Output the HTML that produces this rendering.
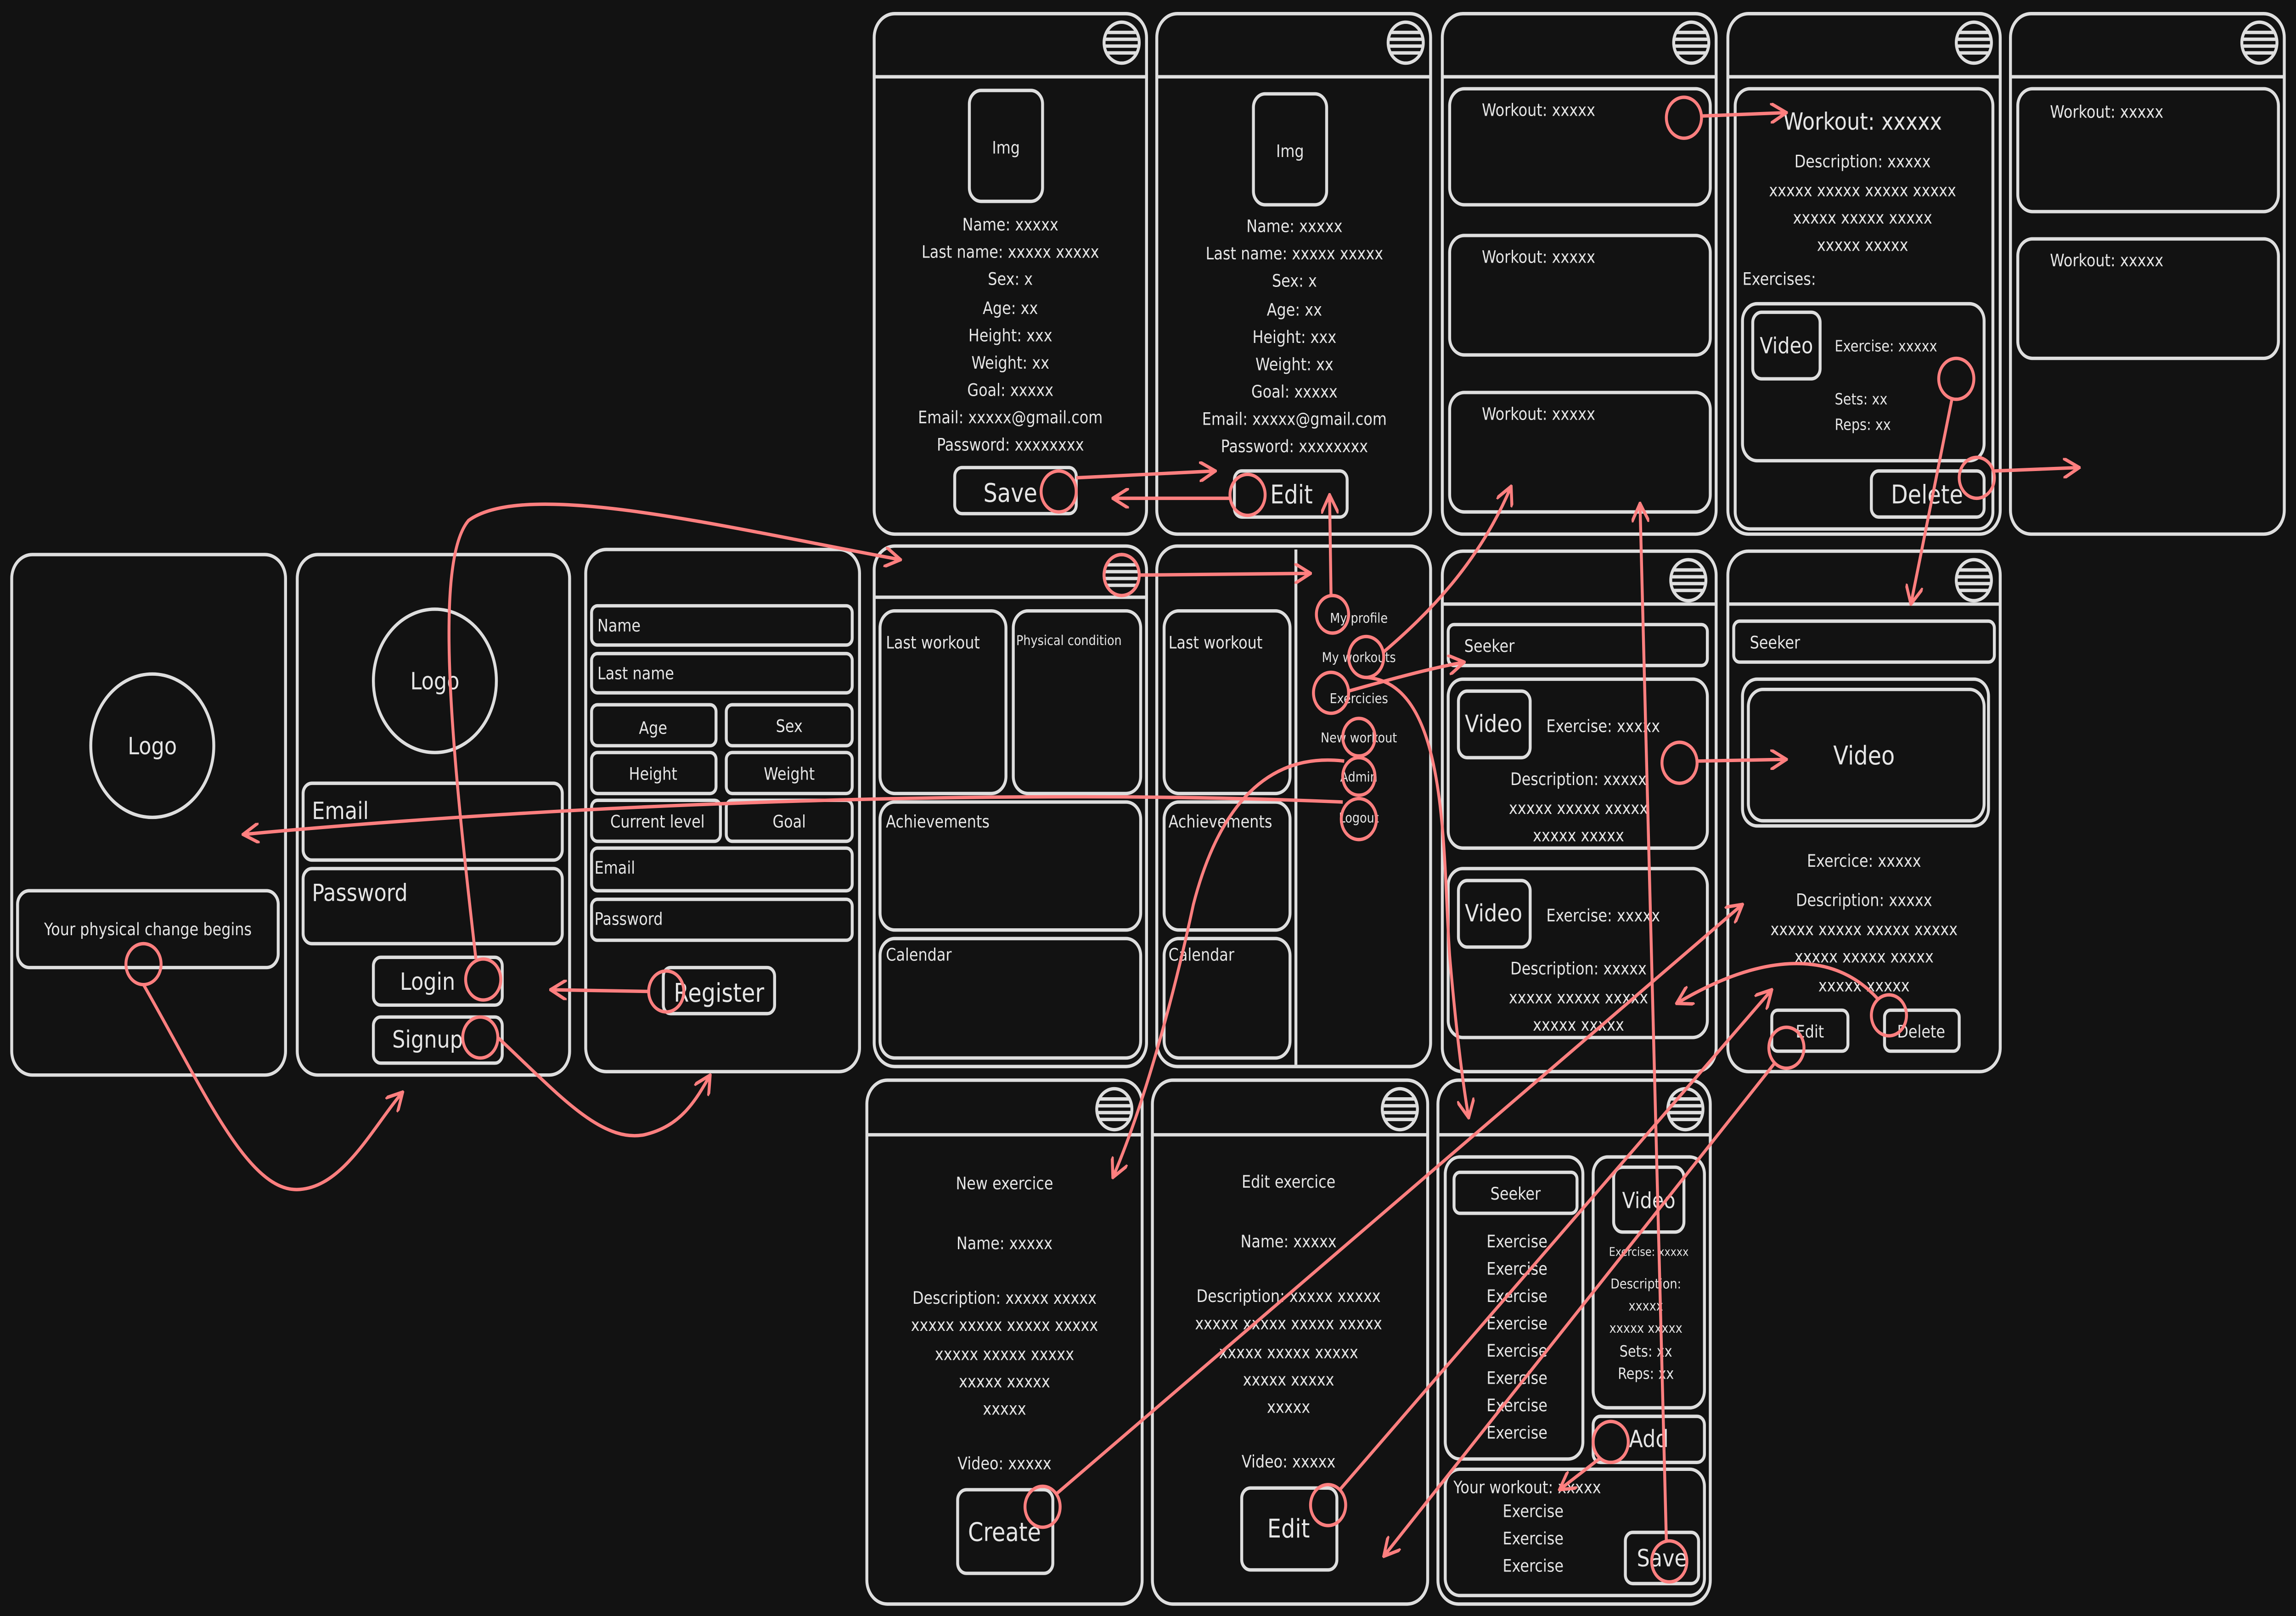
<!DOCTYPE html>
<html><head><meta charset="utf-8"><style>
html,body{margin:0;padding:0;background:#121212;width:100%;height:100%;overflow:hidden;}
svg{display:block;position:absolute;left:0;top:0;width:100%;height:100%}
text{font-family:"DejaVu Sans","Liberation Sans",sans-serif;fill:#e6e6e6;font-size:10px}
.c{text-anchor:middle}
.f{fill:none;stroke:#dedede;stroke-width:2}
.r{fill:none;stroke:#ff7f7f;stroke-width:2}
</style></head><body>
<svg viewBox="0 0 1568 947" preserveAspectRatio="none" xmlns="http://www.w3.org/2000/svg">
<defs>
<marker id="a" viewBox="0 0 12 12" refX="11" refY="6" markerWidth="12" markerHeight="12" markerUnits="userSpaceOnUse" orient="auto"><path d="M0,0 L11,6 L0,12" fill="none" stroke="#ff7f7f" stroke-width="2"/></marker>
<g id="hb"><circle r="12" class="f"/><line x1="-10" y1="-6" x2="10" y2="-6" class="f"/><line x1="-11" y1="-2" x2="11" y2="-2" class="f"/><line x1="-11" y1="2" x2="11" y2="2" class="f"/><line x1="-10" y1="6" x2="10" y2="6" class="f"/></g>
</defs>
<rect width="1568" height="947" fill="#121212"/>
<g>
<!-- Row 1 -->
<rect x="597" y="8" width="186" height="305" rx="14" class="f"/><line x1="597" y1="45" x2="783" y2="45" class="f"/><use href="#hb" x="766" y="25"/>
<rect x="662" y="53" width="50" height="65" rx="8" class="f"/><text x="687" y="90" class="c">Img</text>
<text x="690" y="135" class="c">Name: xxxxx</text><text x="690" y="151" class="c">Last name: xxxxx xxxxx</text><text x="690" y="167" class="c">Sex: x</text><text x="690" y="184" class="c">Age: xx</text><text x="690" y="200" class="c">Height: xxx</text><text x="690" y="216" class="c">Weight: xx</text><text x="690" y="232" class="c">Goal: xxxxx</text><text x="690" y="248" class="c">Email: xxxxx@gmail.com</text><text x="690" y="264" class="c">Password: xxxxxxxx</text>
<rect x="652" y="274" width="83" height="27" rx="5" class="f"/><text x="690" y="294" class="c" style="font-size:15px">Save</text>

<rect x="790" y="8" width="187" height="305" rx="14" class="f"/><line x1="790" y1="45" x2="977" y2="45" class="f"/><use href="#hb" x="960" y="25"/>
<rect x="856" y="55" width="50" height="65" rx="8" class="f"/><text x="881" y="92" class="c">Img</text>
<text x="884" y="136" class="c">Name: xxxxx</text><text x="884" y="152" class="c">Last name: xxxxx xxxxx</text><text x="884" y="168" class="c">Sex: x</text><text x="884" y="185" class="c">Age: xx</text><text x="884" y="201" class="c">Height: xxx</text><text x="884" y="217" class="c">Weight: xx</text><text x="884" y="233" class="c">Goal: xxxxx</text><text x="884" y="249" class="c">Email: xxxxx@gmail.com</text><text x="884" y="265" class="c">Password: xxxxxxxx</text>
<rect x="843" y="276" width="77" height="27" rx="5" class="f"/><text x="882" y="295" class="c" style="font-size:15px">Edit</text>

<rect x="985" y="8" width="187" height="305" rx="14" class="f"/><line x1="985" y1="45" x2="1172" y2="45" class="f"/><use href="#hb" x="1155" y="25"/>
<rect x="990" y="52" width="178" height="68" rx="10" class="f"/><text x="1012" y="68">Workout: xxxxx</text>
<rect x="990" y="138" width="178" height="70" rx="10" class="f"/><text x="1012" y="154">Workout: xxxxx</text>
<rect x="990" y="230" width="178" height="70" rx="10" class="f"/><text x="1012" y="246">Workout: xxxxx</text>

<rect x="1180" y="8" width="186" height="305" rx="14" class="f"/><line x1="1180" y1="45" x2="1366" y2="45" class="f"/><use href="#hb" x="1348" y="25"/>
<rect x="1185" y="52" width="176" height="258" rx="10" class="f"/>
<text x="1272" y="76" class="c" style="font-size:14px">Workout: xxxxx</text>
<text x="1272" y="98" class="c">Description: xxxxx</text><text x="1272" y="115" class="c">xxxxx xxxxx xxxxx xxxxx</text><text x="1272" y="131" class="c">xxxxx xxxxx xxxxx</text><text x="1272" y="147" class="c">xxxxx xxxxx</text>
<text x="1190" y="167">Exercises:</text>
<rect x="1190" y="178" width="165" height="92" rx="10" class="f"/><rect x="1197" y="183" width="46" height="39" rx="6" class="f"/><text x="1220" y="207" class="c" style="font-size:13px">Video</text>
<text x="1253" y="206" style="font-size:9px">Exercise: xxxxx</text><text x="1253" y="237" style="font-size:9px">Sets: xx</text><text x="1253" y="252" style="font-size:9px">Reps: xx</text>
<rect x="1278" y="276" width="77" height="27" rx="5" class="f"/><text x="1316" y="295" class="c" style="font-size:15px">Delete</text>

<rect x="1373" y="8" width="187" height="305" rx="14" class="f"/><line x1="1373" y1="45" x2="1560" y2="45" class="f"/><use href="#hb" x="1543" y="25"/>
<rect x="1378" y="52" width="178" height="72" rx="10" class="f"/><text x="1400" y="69">Workout: xxxxx</text>
<rect x="1378" y="140" width="178" height="70" rx="10" class="f"/><text x="1400" y="156">Workout: xxxxx</text>

<!-- Row 2 -->
<rect x="8" y="325" width="187" height="305" rx="14" class="f"/>
<circle cx="104" cy="437" r="42" class="f"/><text x="104" y="442" class="c" style="font-size:14px">Logo</text>
<rect x="12" y="522" width="178" height="45" rx="8" class="f"/><text x="101" y="548" class="c">Your physical change begins</text>

<rect x="203" y="325" width="186" height="305" rx="14" class="f"/>
<circle cx="297" cy="399" r="42" class="f"/><text x="297" y="404" class="c" style="font-size:14px">Logo</text>
<rect x="207" y="459" width="177" height="45" rx="6" class="f"/><text x="213" y="480" style="font-size:14px">Email</text>
<rect x="207" y="509" width="177" height="44" rx="6" class="f"/><text x="213" y="528" style="font-size:14px">Password</text>
<rect x="255" y="561" width="88" height="28" rx="5" class="f"/><text x="292" y="580" class="c" style="font-size:14px">Login</text>
<rect x="255" y="596" width="88" height="27" rx="5" class="f"/><text x="292" y="614" class="c" style="font-size:14px">Signup</text>

<rect x="400" y="322" width="187" height="306" rx="14" class="f"/>
<rect x="404" y="355" width="178" height="23" rx="4" class="f"/><text x="408" y="370">Name</text>
<rect x="404" y="383" width="178" height="23" rx="4" class="f"/><text x="408" y="398">Last name</text>
<rect x="404" y="413" width="85" height="24" rx="4" class="f"/><text x="446" y="430" class="c">Age</text>
<rect x="496" y="413" width="86" height="24" rx="4" class="f"/><text x="539" y="429" class="c">Sex</text>
<rect x="404" y="441" width="85" height="24" rx="4" class="f"/><text x="446" y="457" class="c">Height</text>
<rect x="496" y="441" width="86" height="24" rx="4" class="f"/><text x="539" y="457" class="c">Weight</text>
<rect x="404" y="469" width="88" height="24" rx="4" class="f"/><text x="449" y="485" class="c">Current level</text>
<rect x="496" y="469" width="86" height="24" rx="4" class="f"/><text x="539" y="485" class="c">Goal</text>
<rect x="404" y="497" width="178" height="25" rx="4" class="f"/><text x="406" y="512">Email</text>
<rect x="404" y="527" width="178" height="24" rx="4" class="f"/><text x="406" y="542">Password</text>
<rect x="453" y="567" width="76" height="27" rx="5" class="f"/><text x="491" y="587" class="c" style="font-size:15px">Register</text>

<rect x="597" y="320" width="186" height="305" rx="14" class="f"/><line x1="597" y1="350" x2="783" y2="350" class="f"/><use href="#hb" x="766" y="337"/>
<rect x="601" y="358" width="86" height="107" rx="10" class="f"/><text x="605" y="380">Last workout</text>
<rect x="692" y="358" width="87" height="107" rx="10" class="f"/><text x="694" y="378" style="font-size:8px">Physical condition</text>
<rect x="601" y="470" width="178" height="75" rx="10" class="f"/><text x="605" y="485">Achievements</text>
<rect x="601" y="550" width="178" height="70" rx="10" class="f"/><text x="605" y="563">Calendar</text>

<rect x="790" y="320" width="187" height="305" rx="14" class="f"/><line x1="885" y1="322" x2="885" y2="624" class="f"/>
<rect x="795" y="358" width="86" height="107" rx="10" class="f"/><text x="798" y="380">Last workout</text>
<rect x="795" y="470" width="86" height="75" rx="10" class="f"/><text x="798" y="485">Achievements</text>
<rect x="795" y="550" width="86" height="70" rx="10" class="f"/><text x="798" y="563">Calendar</text>
<text x="928" y="365" class="c" style="font-size:8px">My profile</text><text x="928" y="388" class="c" style="font-size:8px">My workouts</text><text x="928" y="412" class="c" style="font-size:8px">Exercicies</text><text x="928" y="435" class="c" style="font-size:8px">New workout</text><text x="928" y="458" class="c" style="font-size:8px">Admin</text><text x="928" y="482" class="c" style="font-size:8px">Logout</text>

<rect x="985" y="323" width="187" height="305" rx="14" class="f"/><line x1="985" y1="354" x2="1172" y2="354" class="f"/><use href="#hb" x="1153" y="340"/>
<rect x="989" y="366" width="177" height="24" rx="4" class="f"/><text x="1000" y="382">Seeker</text>
<rect x="989" y="398" width="177" height="99" rx="10" class="f"/><rect x="996" y="405" width="49" height="39" rx="6" class="f"/><text x="1020" y="429" class="c" style="font-size:14px">Video</text>
<text x="1056" y="429">Exercise: xxxxx</text><text x="1078" y="460" class="c">Description: xxxxx</text><text x="1078" y="477" class="c">xxxxx xxxxx xxxxx</text><text x="1078" y="493" class="c">xxxxx xxxxx</text>
<rect x="989" y="509" width="177" height="99" rx="10" class="f"/><rect x="996" y="516" width="49" height="39" rx="6" class="f"/><text x="1020" y="540" class="c" style="font-size:14px">Video</text>
<text x="1056" y="540">Exercise: xxxxx</text><text x="1078" y="571" class="c">Description: xxxxx</text><text x="1078" y="588" class="c">xxxxx xxxxx xxxxx</text><text x="1078" y="604" class="c">xxxxx xxxxx</text>

<rect x="1180" y="323" width="186" height="305" rx="14" class="f"/><line x1="1180" y1="354" x2="1366" y2="354" class="f"/><use href="#hb" x="1348" y="340"/>
<rect x="1184" y="364" width="178" height="24" rx="4" class="f"/><text x="1195" y="380">Seeker</text>
<rect x="1190" y="398" width="168" height="86" rx="10" class="f"/><rect x="1194" y="404" width="161" height="77" rx="10" class="f"/><text x="1273" y="448" class="c" style="font-size:15px">Video</text>
<text x="1273" y="508" class="c">Exercice: xxxxx</text><text x="1273" y="531" class="c">Description: xxxxx</text><text x="1273" y="548" class="c">xxxxx xxxxx xxxxx xxxxx</text><text x="1273" y="564" class="c">xxxxx xxxxx xxxxx</text><text x="1273" y="581" class="c">xxxxx xxxxx</text>
<rect x="1210" y="592" width="52" height="24" rx="4" class="f"/><text x="1236" y="608" class="c">Edit</text>
<rect x="1287" y="592" width="51" height="24" rx="4" class="f"/><text x="1312" y="608" class="c">Delete</text>

<!-- Row 3 -->
<rect x="592" y="633" width="188" height="307" rx="14" class="f"/><line x1="592" y1="665" x2="780" y2="665" class="f"/><use href="#hb" x="761" y="650"/>
<text x="686" y="697" class="c">New exercice</text><text x="686" y="732" class="c">Name: xxxxx</text><text x="686" y="764" class="c">Description: xxxxx xxxxx</text><text x="686" y="780" class="c">xxxxx xxxxx xxxxx xxxxx</text><text x="686" y="797" class="c">xxxxx xxxxx xxxxx</text><text x="686" y="813" class="c">xxxxx xxxxx</text><text x="686" y="829" class="c">xxxxx</text><text x="686" y="861" class="c">Video: xxxxx</text>
<rect x="654" y="873" width="65" height="49" rx="6" class="f"/><text x="686" y="903" class="c" style="font-size:15px">Create</text>

<rect x="787" y="633" width="188" height="307" rx="14" class="f"/><line x1="787" y1="665" x2="975" y2="665" class="f"/><use href="#hb" x="956" y="650"/>
<text x="880" y="696" class="c">Edit exercice</text><text x="880" y="731" class="c">Name: xxxxx</text><text x="880" y="763" class="c">Description: xxxxx xxxxx</text><text x="880" y="779" class="c">xxxxx xxxxx xxxxx xxxxx</text><text x="880" y="796" class="c">xxxxx xxxxx xxxxx</text><text x="880" y="812" class="c">xxxxx xxxxx</text><text x="880" y="828" class="c">xxxxx</text><text x="880" y="860" class="c">Video: xxxxx</text>
<rect x="848" y="872" width="65" height="48" rx="6" class="f"/><text x="880" y="901" class="c" style="font-size:15px">Edit</text>

<rect x="982" y="633" width="186" height="307" rx="14" class="f"/><line x1="982" y1="665" x2="1168" y2="665" class="f"/><use href="#hb" x="1151" y="650"/>
<rect x="987" y="678" width="94" height="177" rx="10" class="f"/><rect x="993" y="687" width="84" height="24" rx="4" class="f"/><text x="1035" y="703" class="c">Seeker</text>
<text x="1036" y="731" class="c">Exercise</text><text x="1036" y="747" class="c">Exercise</text><text x="1036" y="763" class="c">Exercise</text><text x="1036" y="779" class="c">Exercise</text><text x="1036" y="795" class="c">Exercise</text><text x="1036" y="811" class="c">Exercise</text><text x="1036" y="827" class="c">Exercise</text><text x="1036" y="843" class="c">Exercise</text>
<rect x="1088" y="678" width="76" height="147" rx="10" class="f"/><rect x="1102" y="684" width="48" height="38" rx="6" class="f"/><text x="1126" y="708" class="c" style="font-size:13px">Video</text>
<text x="1126" y="736" class="c" style="font-size:7px">Exercise: xxxxx</text><text x="1124" y="755" class="c" style="font-size:8px">Description:</text><text x="1124" y="768" class="c" style="font-size:8px">xxxxx</text><text x="1124" y="781" class="c" style="font-size:8px">xxxxx xxxxx</text><text x="1124" y="795" class="c" style="font-size:9px">Sets: xx</text><text x="1124" y="808" class="c" style="font-size:9px">Reps: xx</text>
<rect x="1088" y="830" width="76" height="27" rx="5" class="f"/><text x="1126" y="848" class="c" style="font-size:14px">Add</text>
<rect x="987" y="861" width="177" height="74" rx="10" class="f"/><text x="1043" y="875" class="c">Your workout: xxxxx</text><text x="1047" y="889" class="c">Exercise</text><text x="1047" y="905" class="c">Exercise</text><text x="1047" y="921" class="c">Exercise</text>
<rect x="1110" y="898" width="50" height="30" rx="5" class="f"/><text x="1135" y="918" class="c" style="font-size:14px">Save</text>
</g>

<!-- red connectors -->
<g>
<circle cx="98" cy="565" r="12" class="r"/><path d="M98,577 C140,640 170,700 205,697 C235,695 255,660 275,640" class="r" marker-end="url(#a)"/>
<circle cx="328" cy="608" r="12" class="r"/><path d="M340,608 C380,640 410,670 440,665 C465,660 475,645 485,630" class="r" marker-end="url(#a)"/>
<circle cx="330" cy="574" r="12" class="r"/><path d="M325,562 C310,450 295,330 320,305 C360,280 500,310 615,328" class="r" marker-end="url(#a)"/>
<circle cx="455" cy="581" r="12" class="r"/><path d="M443,581 L376,580" class="r" marker-end="url(#a)"/>
<circle cx="928" cy="455" r="11" class="r"/><circle cx="928" cy="480" r="12" class="r"/><path d="M917,470 C700,462 400,470 166,489" class="r" marker-end="url(#a)"/>
<circle cx="723" cy="288" r="12" class="r"/><path d="M735,280 L830,276" class="r" marker-end="url(#a)"/>
<circle cx="852" cy="290" r="12" class="r"/><path d="M840,292 L760,292" class="r" marker-end="url(#a)"/>
<circle cx="766" cy="337" r="12" class="r"/><path d="M778,337 L895,336" class="r" marker-end="url(#a)"/>
<circle cx="910" cy="360" r="11" class="r"/><path d="M909,349 L908,290" class="r" marker-end="url(#a)"/>
<circle cx="933" cy="385" r="12" class="r"/><path d="M945,382 C975,360 1010,330 1032,285" class="r" marker-end="url(#a)"/>
<circle cx="909" cy="406" r="12" class="r"/><path d="M921,405 C950,398 975,392 1000,388" class="r" marker-end="url(#a)"/>
<path d="M933,397 C990,400 985,500 990,560 C995,610 1000,640 1003,655" class="r" marker-end="url(#a)"/>
<circle cx="928" cy="432" r="11" class="r"/><path d="M918,446 C860,440 830,480 815,530 C800,590 780,650 760,690" class="r" marker-end="url(#a)"/>
<circle cx="1147" cy="447" r="12" class="r"/><path d="M1159,446 L1220,445" class="r" marker-end="url(#a)"/>
<circle cx="1150" cy="69" r="12" class="r"/><path d="M1162,68 L1220,66" class="r" marker-end="url(#a)"/>
<circle cx="1336" cy="222" r="12" class="r"/><path d="M1333,234 L1305,354" class="r" marker-end="url(#a)"/>
<circle cx="1350" cy="280" r="12" class="r"/><path d="M1362,276 L1420,274" class="r" marker-end="url(#a)"/>
<circle cx="1140" cy="915" r="12" class="r"/><path d="M1138,903 L1120,295" class="r" marker-end="url(#a)"/>
<circle cx="1290" cy="595" r="12" class="r"/><path d="M1282,585 C1250,555 1200,560 1145,588" class="r" marker-end="url(#a)"/>
<circle cx="1220" cy="614" r="12" class="r"/><path d="M1212,623 L945,912" class="r" marker-end="url(#a)"/>
<circle cx="712" cy="883" r="12" class="r"/><path d="M722,875 L1190,530" class="r" marker-end="url(#a)"/>
<circle cx="907" cy="882" r="12" class="r"/><path d="M915,873 L1210,580" class="r" marker-end="url(#a)"/>
<circle cx="1100" cy="845" r="12" class="r"/><path d="M1092,855 L1065,873" class="r" marker-end="url(#a)"/>
</g>
</svg>
</body></html>
